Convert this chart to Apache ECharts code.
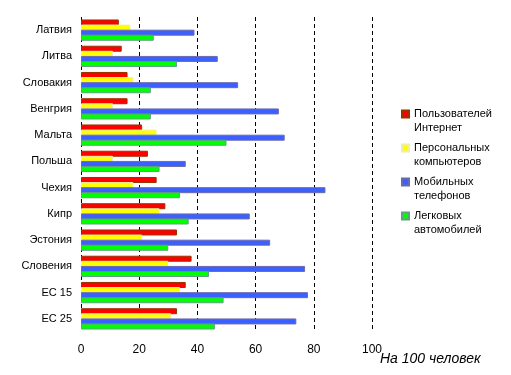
<!DOCTYPE html>
<html>
<head>
<meta charset="utf-8">
<script src="https://cdn.jsdelivr.net/npm/echarts@6/dist/echarts.min.js"></script>
<style>
  html, body { margin: 0; padding: 0; background: #fff; }
  #chart { width: 511px; height: 375px; }
</style>
</head>
<body>
<div id="chart"></div>
<script>
// страны
const countries = ['Латвия', 'Литва', 'Словакия', 'Венгрия', 'Мальта', 'Польша', 'Чехия', 'Кипр', 'Эстония', 'Словения', 'ЕС 15', 'ЕС 25'];

// на 100 человек
const internetUsers = [13, 14, 16, 16, 21, 23, 26, 29, 33, 38, 36, 33];
const personalComputers = [17, 11, 18, 11, 26, 11, 18, 27, 21, 30, 34, 31];
const mobilePhones = [39, 47, 54, 68, 70, 36, 84, 58, 65, 77, 78, 74];
const passengerCars = [25, 33, 24, 24, 50, 27, 34, 37, 30, 44, 49, 46];

const xTicks = [0, 20, 40, 60, 80, 100];

const seriesNames = ['Пользователей\nИнтернет', 'Персональных\nкомпьютеров', 'Мобильных\nтелефонов', 'Легковых\nавтомобилей'];

const font = 'Liberation Sans, Arial, sans-serif';

const chart = echarts.init(document.getElementById('chart'));

const bar = (name, data, color, border) => ({
  name: name,
  type: 'bar',
  data: data,
  barWidth: 6,
  barGap: '-15%',
  itemStyle: { color: color, borderColor: border, borderWidth: 1 },
  emphasis: { disabled: true },
});

chart.setOption({
  animation: false,
  title: {
    text: 'На 100 человек',
    left: 375,
    top: 347,
    textStyle: { fontFamily: font, fontSize: 14, fontStyle: 'italic', fontWeight: 'normal', color: '#000' },
  },
  legend: {
    orient: 'vertical',
    left: 396,
    top: 88,
    itemWidth: 7,
    itemHeight: 7,
    itemGap: -8,
    icon: 'rect',
    selectedMode: false,
    // пустая первая строка, чтобы значок стоял напротив первой строки текста
    formatter: (name) => '\n' + name,
    textStyle: { fontFamily: font, fontSize: 11, color: '#000', lineHeight: 14 },
  },
  grid: { left: 81, right: 139, top: 17, bottom: 43, containLabel: false },
  xAxis: {
    type: 'value',
    min: xTicks[0],
    max: xTicks[xTicks.length - 1],
    interval: 20,
    axisLine: { show: false },
    axisTick: { show: false },
    axisLabel: { margin: 12, fontFamily: font, fontSize: 12, color: '#000' },
    splitLine: { show: true, lineStyle: { color: '#000', width: 1, type: [4, 3] } },
  },
  yAxis: {
    type: 'category',
    inverse: true,
    data: countries,
    axisLine: { show: false },
    axisTick: { show: false },
    axisLabel: { margin: 9, fontFamily: font, fontSize: 11, color: '#000' },
  },
  series: [
    bar(seriesNames[0], internetUsers, '#ff0000', '#993300'),
    bar(seriesNames[1], personalComputers, '#ffff00', '#f0f0a0'),
    bar(seriesNames[2], mobilePhones, '#3a60ff', '#6a6ab0'),
    bar(seriesNames[3], passengerCars, '#00ff00', '#5fa080'),
  ],
});
</script>
</body>
</html>
